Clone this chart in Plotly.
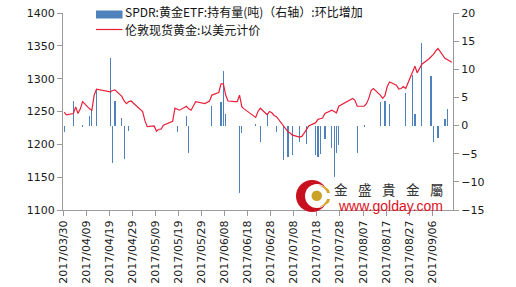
import plotly.graph_objects as go
import pandas as pd

# SPDR gold ETF holdings change (tonnes, right axis)
bar_dates = ["2017-03-30","2017-04-03","2017-04-07","2017-04-10","2017-04-11","2017-04-13",
             "2017-04-19","2017-04-20","2017-04-21","2017-04-24","2017-04-25","2017-04-27",
             "2017-05-18","2017-05-22","2017-05-23","2017-06-02","2017-06-06","2017-06-07",
             "2017-06-08","2017-06-14","2017-06-15","2017-06-21","2017-06-23","2017-06-26",
             "2017-06-30","2017-07-03","2017-07-05","2017-07-07","2017-07-10","2017-07-13",
             "2017-07-17","2017-07-18","2017-07-19","2017-07-21","2017-07-24","2017-07-25",
             "2017-07-26","2017-07-27","2017-08-04","2017-08-07","2017-08-14","2017-08-16",
             "2017-08-18","2017-08-25","2017-08-28","2017-08-29","2017-09-01","2017-09-05",
             "2017-09-06","2017-09-08","2017-09-11","2017-09-12"]
bar_values = [-1.2, 4.4, -0.3, 1.7, 2.7, 6.4,
              12.0, -6.6, 4.4, 1.4, -5.9, -0.9,
              -1.2, 1.7, -4.9, 3.5, 4.1, 9.7,
              2.1, -12.0, -1.3, 0.35, -3.0, 2.3,
              -1.2, -6.2, -5.6, -5.3, -3.0, -3.3,
              -5.2, -5.6, -5.0, -2.4, -4.0, -9.1,
              -4.9, -3.4, -4.8, -0.25, 4.1, 4.4,
              3.8, 5.8, 9.0, 2.1, 14.7, 8.8,
              -3.0, -2.2, 1.1, 2.9]

# London spot gold (USD)
price_dates = ["2017-03-30","2017-03-31","2017-04-03","2017-04-04","2017-04-05","2017-04-06",
               "2017-04-07","2017-04-10","2017-04-11","2017-04-12","2017-04-13","2017-04-18",
               "2017-04-19","2017-04-20","2017-04-21","2017-04-24","2017-04-25","2017-04-26",
               "2017-04-27","2017-04-28","2017-05-02","2017-05-03","2017-05-04","2017-05-05",
               "2017-05-08","2017-05-09","2017-05-10","2017-05-11","2017-05-12","2017-05-15",
               "2017-05-16","2017-05-17","2017-05-18","2017-05-19","2017-05-22","2017-05-23",
               "2017-05-24","2017-05-25","2017-05-26","2017-05-30","2017-05-31","2017-06-01",
               "2017-06-02","2017-06-05","2017-06-06","2017-06-07","2017-06-08","2017-06-09",
               "2017-06-12","2017-06-13","2017-06-14","2017-06-15","2017-06-16","2017-06-19",
               "2017-06-20","2017-06-21","2017-06-22","2017-06-23","2017-06-26","2017-06-27",
               "2017-06-28","2017-06-29","2017-06-30","2017-07-03","2017-07-04","2017-07-05",
               "2017-07-06","2017-07-07","2017-07-10","2017-07-11","2017-07-12","2017-07-13",
               "2017-07-14","2017-07-17","2017-07-18","2017-07-19","2017-07-20","2017-07-21",
               "2017-07-24","2017-07-25","2017-07-26","2017-07-27","2017-07-28","2017-07-31",
               "2017-08-01","2017-08-02","2017-08-03","2017-08-04","2017-08-07","2017-08-08",
               "2017-08-09","2017-08-10","2017-08-11","2017-08-14","2017-08-15","2017-08-16",
               "2017-08-17","2017-08-18","2017-08-21","2017-08-22","2017-08-23","2017-08-24",
               "2017-08-25","2017-08-28","2017-08-29","2017-08-30","2017-08-31","2017-09-01",
               "2017-09-04","2017-09-05","2017-09-06","2017-09-07","2017-09-08","2017-09-11",
               "2017-09-12","2017-09-13","2017-09-14"]
price_values = [1249, 1245, 1247, 1257, 1247, 1254,
                1265, 1254, 1252, 1275, 1284, 1281,
                1280, 1282, 1283, 1273, 1266, 1262,
                1265, 1266, 1254, 1250, 1236, 1227,
                1228, 1220, 1223, 1223, 1229, 1234,
                1235, 1255, 1253, 1252, 1258, 1254,
                1252, 1258, 1265, 1262, 1264, 1266,
                1275, 1279, 1292, 1292, 1275, 1266,
                1265, 1265, 1275, 1257, 1254, 1246,
                1243, 1241, 1250, 1255, 1245, 1250,
                1248, 1244, 1242, 1228, 1222, 1219,
                1217, 1214, 1211, 1212, 1217, 1222,
                1228, 1233, 1238, 1239, 1240, 1247,
                1252, 1250, 1248, 1258, 1260, 1266,
                1269, 1270, 1267, 1258, 1258, 1262,
                1270, 1282, 1285, 1275, 1270, 1274,
                1288, 1295, 1290, 1284, 1285, 1288,
                1285, 1309, 1319, 1309, 1316, 1322,
                1330, 1333, 1337, 1342, 1346, 1331,
                1329, 1327, 1325]

tick_labels_start = "2017-03-30"
bar_name = "SPDR:黄金ETF:持有量(吨)（右轴）:环比增加"
line_name = "伦敦现货黄金:以美元计价"
brand_chars = ["金", "盛", "貴", "金", "屬"]
brand_url = "www.golday.com"

half_day = pd.Timedelta(hours=12)
bx = pd.to_datetime(bar_dates) + half_day
px = pd.to_datetime(price_dates) + half_day

fig = go.Figure()
fig.add_trace(go.Bar(x=bx, y=bar_values, yaxis="y", marker_color="#4F81BD",
                     marker_line_width=0, width=0.08 * 86400000, showlegend=False))
fig.add_trace(go.Scatter(x=px, y=price_values, yaxis="y2", mode="lines",
                         line=dict(color="#E8203A", width=1.2), showlegend=False))

axis_col = "#9A9A9A"
tick_font = dict(family="DejaVu Sans", size=11, color="#1a1a1a")
fig.update_layout(
    width=516, height=287,
    margin=dict(l=63, r=63, t=13, b=77, autoexpand=False),
    paper_bgcolor="white", plot_bgcolor="white",
    bargap=0,
    xaxis=dict(type="date", range=["2017-03-30", "2017-09-15"], automargin=False,
               tick0=tick_labels_start, dtick=10 * 86400000, tickformat="%Y/%m/%d",
               tickangle=-90, ticks="outside", ticklen=5, tickcolor=axis_col,
               showline=True, linecolor=axis_col, showgrid=False, zeroline=False,
               tickfont=tick_font),
    yaxis=dict(side="right", range=[-15, 20], dtick=5, ticks="outside", ticklen=5,
               tickcolor=axis_col, showline=True, linecolor=axis_col, showgrid=False,
               zeroline=False, tickfont=tick_font, automargin=False),
    yaxis2=dict(side="left", overlaying="y", range=[1100, 1400], dtick=50,
                ticks="outside", ticklen=5, tickcolor=axis_col, showline=True,
                linecolor=axis_col, showgrid=False, zeroline=False, tickfont=tick_font,
                automargin=False),
)

def fx(p):
    return (p - 63) / 390.0

def fy(p):
    return (210 - p) / 197.0

cjk = "Noto Sans CJK SC"
# custom legend
fig.add_shape(type="rect", xref="paper", yref="paper", x0=fx(96), x1=fx(122.5),
              y0=fy(18.5), y1=fy(10.5), fillcolor="#4F81BD", line_width=0)
fig.add_shape(type="line", xref="paper", yref="paper", x0=fx(96), x1=fx(122.5),
              y0=fy(29.5), y1=fy(29.5), line=dict(color="#E8203A", width=1.2))
fig.add_annotation(xref="paper", yref="paper", x=fx(124), y=fy(11.5), text=bar_name,
                   showarrow=False, xanchor="left", yanchor="middle", borderpad=0,
                   font=dict(family=cjk, size=12, color="#111"))
fig.add_annotation(xref="paper", yref="paper", x=fx(124), y=fy(29), text=line_name,
                   showarrow=False, xanchor="left", yanchor="middle", borderpad=0,
                   font=dict(family=cjk, size=12, color="#111"))

# watermark logo
fig.add_shape(type="circle", xref="paper", yref="paper", x0=fx(296), x1=fx(328),
              y0=fy(212), y1=fy(180), fillcolor="#C8101E", line_width=0)
fig.add_shape(type="circle", xref="paper", yref="paper", x0=fx(305), x1=fx(329),
              y0=fy(208), y1=fy(184), fillcolor="white", line_width=0)
fig.add_shape(type="path", xref="paper", yref="paper",
              path=(f"M {fx(318)},{fy(185)} Q {fx(330)},{fy(187)} {fx(330)},{fy(193)} "
                    f"L {fx(327)},{fy(193)} Q {fx(326)},{fy(188)} {fx(318)},{fy(185)} Z"),
              fillcolor="#D4A62A", line_width=0)
fig.add_shape(type="path", xref="paper", yref="paper",
              path=(f"M {fx(318)},{fy(207)} Q {fx(330)},{fy(205)} {fx(330)},{fy(199)} "
                    f"L {fx(327)},{fy(199)} Q {fx(326)},{fy(204)} {fx(318)},{fy(207)} Z"),
              fillcolor="#D4A62A", line_width=0)
fig.add_shape(type="circle", xref="paper", yref="paper", x0=fx(311.5), x1=fx(322),
              y0=fy(201), y1=fy(190.5), fillcolor="#C9A227", line_width=0)
for i, ch in enumerate(brand_chars):
    fig.add_annotation(xref="paper", yref="paper", x=fx(340.5 + 24 * i), y=fy(189),
                       text=ch, showarrow=False, xanchor="center", yanchor="middle",
                       borderpad=0,
                       font=dict(family="Noto Sans CJK TC", size=13.5, color="#333333"))
fig.add_annotation(xref="paper", yref="paper", x=fx(390), y=fy(206), text=brand_url,
                   showarrow=False, xanchor="center", yanchor="middle", borderpad=0,
                   font=dict(family="Liberation Sans", size=14, color="#E0101E"))

fig.write_html("out.html")
